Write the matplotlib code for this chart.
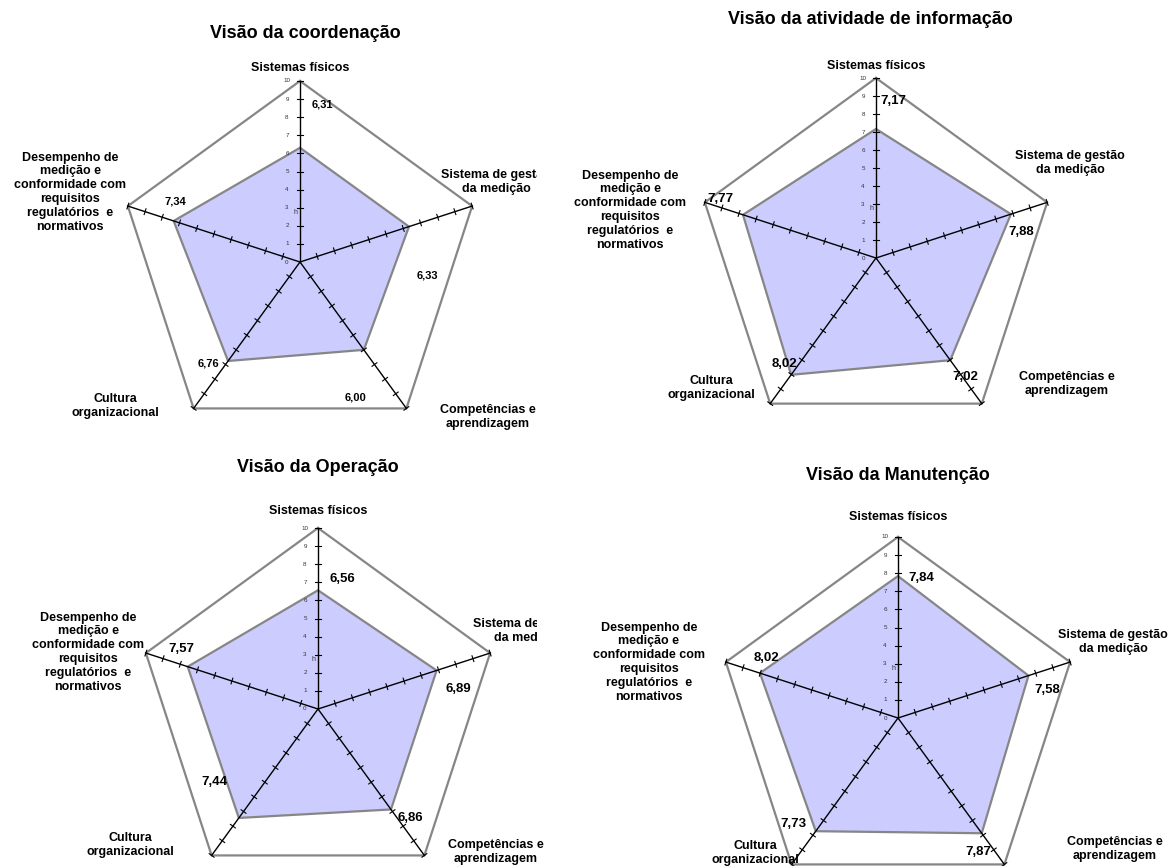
import numpy as np
import matplotlib.pyplot as plt

plt.rcParams['font.family'] = ['Liberation Sans', 'DejaVu Sans']

categories = [
    "Sistemas físicos",
    "Sistema de gestão\nda medição",
    "Competências e\naprendizagem",
    "Cultura\norganizacional",
    "Desempenho de\nmedição e\nconformidade com\nrequisitos\nregulatórios  e\nnormativos",
]
titles = ["Visão da coordenação", "Visão da atividade de informação",
          "Visão da Operação", "Visão da Manutenção"]
coordenacao = [6.31, 6.33, 6.00, 6.76, 7.34]
informacao = [7.17, 7.88, 7.02, 8.02, 7.77]
operacao = [6.56, 6.89, 6.86, 7.44, 7.57]
manutencao = [7.84, 7.58, 7.87, 7.73, 8.02]
ticks = list(range(0, 11))

W, H = 1171, 866

# layout per panel: axes box (px), centre (px), radius (px), label offsets (px)
panels = [
    dict(values=coordenacao, box=(0, 0, 537, 435), c=(300, 262), R=181, title=(5, 33),
         vfs=8,
         lab=[(0, -194), (196, -80), (188, 155), (-185, 144), (-230, -70)],
         voff=[(22, -43), (18, 49), (-8, 48), (-20, 3), (2, -19)]),
    dict(values=informacao, box=(555, 0, 1171, 435), c=(876, 258), R=180, title=(-6, 20),
         vfs=9.5,
         lab=[(0, -192), (194, -95), (191, 126), (-165, 130), (-246, -48)],
         voff=[(17, -28), (10, 18), (15, 17), (-7, -11), (-23, -16)]),
    dict(values=operacao, box=(0, 435, 537, 866), c=(318, 709), R=181, title=(0, 468),
         vfs=9.5,
         lab=[(0, -198), (210, -78), (178, 143), (-188, 136), (-230, -57)],
         voff=[(24, -11), (22, 19), (19, 9), (-24, -36), (-6, -18)]),
    dict(values=manutencao, box=(555, 435, 1171, 866), c=(898, 718), R=181, title=(0, 476),
         vfs=9.5,
         lab=[(0, -201), (215, -76), (217, 131), (-143, 135), (-249, -56)],
         voff=[(23, 2), (19, 14), (-3, 19), (-22, -7), (6, -15)]),
]

n = len(categories)
angles = np.pi / 2 - np.arange(n) * 2 * np.pi / n

fig = plt.figure(figsize=(W / 100, H / 100), dpi=100)

for i, p in enumerate(panels):
    x0, y0, x1, y1 = p["box"]
    cx, cy = p["c"]
    s = p["R"] / 10.0  # px per unit
    ax = fig.add_axes([x0 / W, 1 - y1 / H, (x1 - x0) / W, (y1 - y0) / H])
    ax.set_xlim((x0 - cx) / s, (x1 - cx) / s)
    ax.set_ylim((cy - y1) / s, (cy - y0) / s)
    ax.axis("off")

    px = lambda d: d / s  # pixel offset -> data units

    # outer frame at 10
    ox = 10 * np.cos(angles)
    oy = 10 * np.sin(angles)
    ax.plot(np.append(ox, ox[0]), np.append(oy, oy[0]), color="#868686", lw=1.6, zorder=2)

    # filled series
    v = np.array(p["values"])
    vx = v * np.cos(angles)
    vy = v * np.sin(angles)
    ax.fill(vx, vy, facecolor="#CCCCFF", edgecolor="#868686", lw=1.6, zorder=1)

    # spokes with tick marks
    tl = px(3)
    for a in angles:
        ax.plot([0, 10 * np.cos(a)], [0, 10 * np.sin(a)], color="black", lw=1.0, zorder=3)
        nx, ny = -np.sin(a), np.cos(a)
        for t in ticks[1:]:
            bx, by = t * np.cos(a), t * np.sin(a)
            ax.plot([bx - tl * nx, bx + tl * nx], [by - tl * ny, by + tl * ny],
                    color="black", lw=0.8, zorder=3)

    # radial tick labels on the vertical spoke
    for t in ticks:
        ax.text(-px(13), t, str(t), fontsize=4.5, color="#333333",
                ha="center", va="center", zorder=4)
    ax.text(-px(4), 2.75, "h", fontsize=5, color="#333333", ha="center", va="center")

    # category labels (the right-hand one gets cut at the panel edge)
    for k, (lx, ly) in enumerate(p["lab"]):
        ax.text(px(lx), -px(ly), categories[k], fontsize=9, fontweight="bold",
                ha="center", va="center", linespacing=1.2, clip_on=(k == 1))

    # value labels
    for k, (dx, dy) in enumerate(p["voff"]):
        ax.text(vx[k] + px(dx), vy[k] - px(dy), f"{v[k]:.2f}".replace(".", ","),
                fontsize=p["vfs"], fontweight="bold", ha="center", va="center", zorder=5)

    tx, ty = p["title"]
    ax.text(px(tx), (cy - ty) / s, titles[i], fontsize=13, fontweight="bold",
            ha="center", va="center")

fig.savefig("out.png", dpi=100)
